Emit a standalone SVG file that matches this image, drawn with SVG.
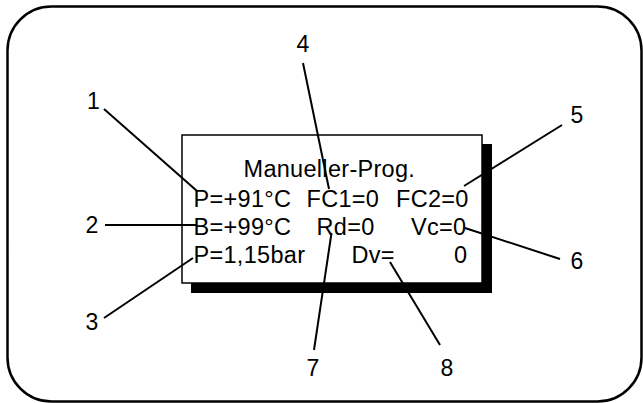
<svg xmlns="http://www.w3.org/2000/svg" width="643" height="403" viewBox="0 0 643 403">
<style>
.frame{fill:#fff;stroke:#000;stroke-width:2.5}
.lcd{fill:#fff;stroke:#000;stroke-width:1.5}
.lbl{font-family:"Liberation Sans",Arial,sans-serif;font-size:23.5px;fill:#000}
.num{font-family:"Liberation Sans",Arial,sans-serif;font-size:23px;fill:#000;text-anchor:middle}
.t{letter-spacing:0.3px}
.ld{stroke:#000;stroke-width:2;fill:none}
</style>
<rect class="frame" x="7.5" y="6.5" width="634" height="395" rx="44" ry="44"/>
<g id="display">
<rect x="191" y="144" width="301" height="149" fill="#000"/>
<rect class="lcd" x="182" y="135" width="300" height="148"/>
<text class="lbl t" x="243.5" y="177">Manueller-Prog.</text>
<text class="lbl t" x="193.5" y="207">P=+91°C</text>
<text class="lbl t" x="306.5" y="207">FC1=0</text>
<text class="lbl t" x="396" y="207">FC2=0</text>
<text class="lbl t" x="193.5" y="235">B=+99°C</text>
<text class="lbl t" x="316.5" y="235">Rd=0</text>
<text class="lbl t" x="411" y="235">Vc=0</text>
<text class="lbl t" x="193.5" y="263">P=1,15bar</text>
<text class="lbl t" x="351.5" y="263">Dv=</text>
<text class="lbl t" x="454" y="263">0</text>
</g>
<g id="connectors">
<line class="ld" x1="104" y1="109" x2="197" y2="191"/>
<line class="ld" x1="105" y1="225" x2="196" y2="225"/>
<line class="ld" x1="104" y1="318" x2="193" y2="258"/>
<line class="ld" x1="303" y1="63" x2="329" y2="189"/>
<line class="ld" x1="562" y1="125" x2="464" y2="186"/>
<line class="ld" x1="560" y1="259" x2="465" y2="228"/>
<line class="ld" x1="314" y1="350" x2="331.5" y2="233"/>
<line class="ld" x1="440" y1="345" x2="390" y2="262"/>
</g>
<g id="label-1"><text class="num" x="93.5" y="109">1</text></g>
<g id="label-2"><text class="num" x="92" y="233">2</text></g>
<g id="label-3"><text class="num" x="92" y="330">3</text></g>
<g id="label-4"><text class="num" x="303" y="52">4</text></g>
<g id="label-5"><text class="num" x="577" y="123">5</text></g>
<g id="label-6"><text class="num" x="577" y="268.5">6</text></g>
<g id="label-7"><text class="num" x="313" y="376">7</text></g>
<g id="label-8"><text class="num" x="447" y="376">8</text></g>
</svg>
